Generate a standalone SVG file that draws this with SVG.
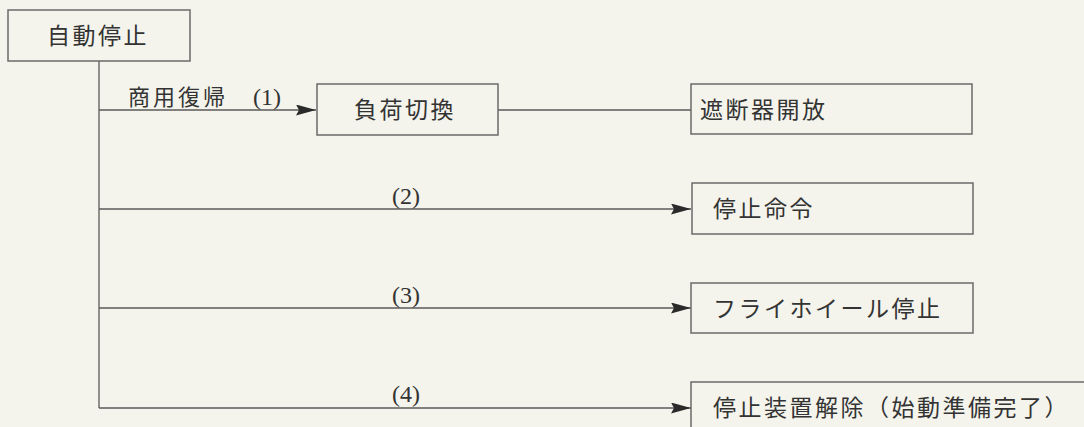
<svg xmlns="http://www.w3.org/2000/svg" width="1084" height="427" viewBox="0 0 1084 427">
<style>
.bg{fill:#f4f4ec}
.box{fill:none;stroke:#6a6a6a;stroke-width:1.5}
.ln{fill:none;stroke:#5a5a5a;stroke-width:1.3}
.t{font-family:"Liberation Serif","Noto Sans CJK JP",serif;font-size:23px;fill:#333;letter-spacing:2.5px}
.lb{font-family:"Liberation Serif","Noto Sans CJK JP",serif;font-size:24px;fill:#333}
.lbj{font-family:"Liberation Serif","Noto Sans CJK JP",serif;font-size:22px;fill:#333;letter-spacing:3px}
</style>
<defs>
<marker id="ah" markerUnits="userSpaceOnUse" markerWidth="20" markerHeight="11" refX="20" refY="5.5" orient="auto">
<path d="M0,0 L20,5.5 L0,11 L3,5.5 Z" fill="#2a2a2a"/>
</marker>
</defs>
<rect class="bg" x="0" y="0" width="1084" height="427"/>
<g id="connectors">
<path class="ln" d="M99,61 V408"/>
<path class="ln" d="M99,110 H316" marker-end="url(#ah)"/>
<path class="ln" d="M498,110 H691"/>
<path class="ln" d="M99,209 H691" marker-end="url(#ah)"/>
<path class="ln" d="M99,308 H691" marker-end="url(#ah)"/>
<path class="ln" d="M99,408 H691" marker-end="url(#ah)"/>
<text class="lbj" x="128" y="105">商用復帰</text>
<text class="lb" x="253" y="105">(1)</text>
<text class="lb" x="392" y="204">(2)</text>
<text class="lb" x="392" y="303">(3)</text>
<text class="lb" x="392" y="402">(4)</text>
</g>
<g id="n-auto-stop">
<rect class="box" x="8" y="10" width="182" height="51"/>
<text class="t" x="47" y="44">自動停止</text>
</g>
<g id="n-load-switch">
<rect class="box" x="317" y="84" width="181" height="51"/>
<text class="t" x="354" y="118">負荷切換</text>
</g>
<g id="n-breaker-open">
<rect class="box" x="691" y="84" width="281" height="50"/>
<text class="t" x="700" y="118">遮断器開放</text>
</g>
<g id="n-stop-cmd">
<rect class="box" x="692" y="183" width="281" height="51"/>
<text class="t" x="713" y="217">停止命令</text>
</g>
<g id="n-flywheel-stop">
<rect class="box" x="691" y="283" width="282" height="50"/>
<text class="t" x="713" y="317">フライホイール停止</text>
</g>
<g id="n-stop-release">
<rect class="box" x="691" y="382" width="420" height="60"/>
<text class="t" x="713" y="416">停止装置解除（始動準備完了）</text>
</g>
</svg>
